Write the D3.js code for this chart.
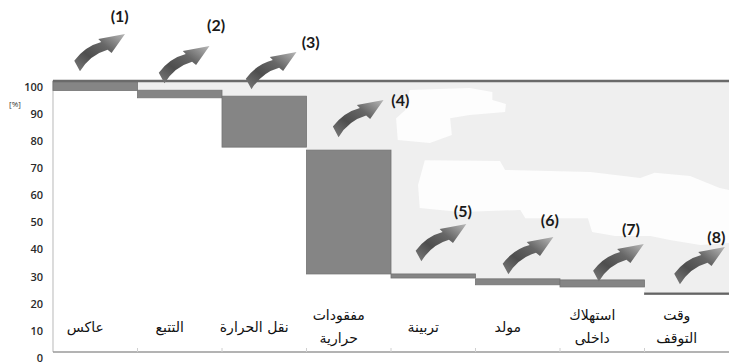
<!DOCTYPE html>
<html>
<head>
<meta charset="utf-8">
<script src="https://cdn.jsdelivr.net/npm/d3@7"></script>
<style>
  body { margin: 0; background: #fff; }
  svg { display: block; }
</style>
</head>
<body>
<div id="chart"></div>
<script>
// categories (two-line labels split on \n)
const categories = ["عاكس", "التتبع", "نقل الحرارة", "مفقودات\nحرارية", "تربينة", "مولد", "استهلاك\nداخلى", "وقت\nالتوقف"];
// waterfall steps, % of input energy
const barTop = [100, 96.6, 94.4, 74.5, 28.8, 27.0, 26.6, 21.8];
const barBottom = [96.5, 93.8, 75.6, 28.8, 27.3, 24.8, 24.0, 21.2];
const yTicks = [0, 10, 20, 30, 40, 50, 60, 70, 80, 90, 100];
// loss arrows: position in category units / value units
const arrowNames = ["(1)", "(2)", "(3)", "(4)", "(5)", "(6)", "(7)", "(8)"];
const arrowX = [0.24, 1.24, 2.27, 3.30, 4.28, 5.31, 6.38, 7.34];
const arrowY = [103.3, 98.9, 96.7, 79.0, 33.2, 28.4, 25.8, 24.7];
const arrowLabelX = [0.79, 1.93, 3.05, 4.11, 4.85, 5.88, 6.84, 7.85];
const arrowLabelY = [124, 120.7, 114.4, 93, 51.7, 48.7, 45.4, 42.4];
// white patches of the background picture
const patchA = [[4.22, 96.7], [4.93, 97.4], [5.2, 95.9], [5.2, 93], [5.36, 91.5], [5.35, 88.6], [4.93, 87.5], [4.7, 86.3], [4.72, 80.1], [4.46, 77.1], [4.08, 78.2], [4.06, 86.3], [4.17, 89.3], [4.2, 93.7]];
const patchB = [[4.4, 70.8], [5.29, 70.5], [5.35, 67.2], [6.36, 66.4], [6.95, 64.2], [7.12, 66.1], [7.54, 64.9], [7.89, 60.5], [8, 59.8], [8, 40.2], [7.66, 39.5], [7.3, 41.3], [7.07, 42.8], [6.65, 42.8], [6.38, 44.3], [6.33, 49.4], [5.59, 49.4], [5.53, 52.4], [4.82, 51.7], [4.34, 53.1], [4.32, 61.6]];

const width = 729;
const height = 364;
const margin = { top: 81, bottom: 12, left: 53, right: 0 };

const svg = d3.select("#chart").append("svg")
  .attr("width", width).attr("height", height);

const x = d3.scaleBand()
  .domain(d3.range(categories.length))
  .range([margin.left, width - margin.right])
  .padding(0);
const xu = d3.scaleLinear().domain([0, categories.length]).range([margin.left, width - margin.right]);
const y = d3.scaleLinear().domain([0, 100]).range([height - margin.bottom, margin.top]);

// arrow gradient
const grad = svg.append("defs").append("linearGradient")
  .attr("id", "arrowGrad")
  .attr("x1", 0).attr("y1", 1).attr("x2", 1).attr("y2", 0);
grad.selectAll("stop")
  .data([[0, "#7c7c7c"], [0.35, "#4e4e4e"], [0.65, "#676767"], [1, "#b8b8b8"]])
  .enter().append("stop")
  .attr("offset", (d) => d[0])
  .attr("stop-color", (d) => d[1]);

// light gray loss area above each step
svg.selectAll("rect.loss")
  .data(barTop)
  .enter().append("rect")
  .attr("class", "loss")
  .attr("x", (d, i) => x(i))
  .attr("width", x.bandwidth() + 0.5)
  .attr("y", y(100))
  .attr("height", (d) => y(d) - y(100))
  .attr("fill", "#efefef");

// white patches
const line = d3.line().x((d) => xu(d[0])).y((d) => y(d[1])).curve(d3.curveLinearClosed);
svg.selectAll("path.patch")
  .data([patchA, patchB])
  .enter().append("path")
  .attr("class", "patch")
  .attr("d", line)
  .attr("fill", "#fdfdfd");

// axes lines
svg.append("line")
  .attr("x1", margin.left).attr("x2", margin.left)
  .attr("y1", y(100)).attr("y2", y(0))
  .attr("stroke", "#c4c4c4").attr("stroke-width", 1.2);
svg.append("line")
  .attr("x1", margin.left).attr("x2", width)
  .attr("y1", y(0)).attr("y2", y(0))
  .attr("stroke", "#9a9a9a").attr("stroke-width", 1.5);
svg.selectAll("line.xtick")
  .data(d3.range(1, categories.length))
  .enter().append("line")
  .attr("class", "xtick")
  .attr("x1", (d) => x(d)).attr("x2", (d) => x(d))
  .attr("y1", y(0)).attr("y2", y(0) - 4)
  .attr("stroke", "#d0d0d0");

// bars
svg.selectAll("rect.bar")
  .data(barTop)
  .enter().append("rect")
  .attr("class", "bar")
  .attr("x", (d, i) => x(i))
  .attr("width", x.bandwidth())
  .attr("y", (d) => y(d))
  .attr("height", (d, i) => y(barBottom[i]) - y(d))
  .attr("fill", (d, i) => (i === categories.length - 1 ? "#5e5e5e" : "#858585"))
  .attr("stroke", "#737373")
  .attr("stroke-width", 0.8);

// top 100% line
svg.append("line")
  .attr("x1", margin.left).attr("x2", width)
  .attr("y1", y(100)).attr("y2", y(100))
  .attr("stroke", "#6a6a6a").attr("stroke-width", 2.5);

// y axis
const yAxis = svg.append("g")
  .attr("transform", `translate(${margin.left},0)`)
  .call(d3.axisLeft(y).tickValues(yTicks).tickSize(0).tickPadding(10));
yAxis.select(".domain").remove();
yAxis.selectAll("text")
  .attr("dy", "0.85em")
  .attr("font-family", "'Open Sans', sans-serif")
  .attr("font-weight", 600)
  .attr("font-size", 11)
  .attr("fill", "#2a2a2a");

svg.append("text")
  .attr("x", 15).attr("y", y(90.5))
  .attr("text-anchor", "middle")
  .attr("font-family", "'Open Sans', sans-serif")
  .attr("font-size", 8)
  .attr("fill", "#333")
  .text("[%]");

// category labels
const labels = svg.selectAll("text.cat")
  .data(categories)
  .enter().append("text")
  .attr("class", "cat")
  .attr("x", (d, i) => x(i) + x.bandwidth() / 2 - 10)
  .attr("y", (d) => (d.includes("\n") ? y(11.7) : y(7.4)))
  .attr("text-anchor", "middle")
  .attr("font-family", "'DejaVu Sans', sans-serif")
  .attr("font-size", 14)
  .attr("fill", "#111")
  .attr("direction", "rtl");
labels.each(function (d) {
  const parts = d.split("\n");
  d3.select(this).selectAll("tspan")
    .data(parts)
    .enter().append("tspan")
    .attr("x", d3.select(this).attr("x"))
    .attr("dy", (p, j) => (j === 0 ? 0 : "1.65em"))
    .text((p) => p);
});

// loss arrows
const arrowPath = "M6.7,-0.7 L1,-11.3 Q11.7,-25.7 28,-30 L25,-33 L51.7,-38 L38.3,-19 L34.3,-22.3 Q16.7,-17.3 6.7,-0.7 Z";
svg.selectAll("path.arrow")
  .data(arrowX)
  .enter().append("path")
  .attr("class", "arrow")
  .attr("transform", (d, i) => `translate(${xu(d)},${y(arrowY[i])})`)
  .attr("d", arrowPath)
  .attr("fill", "url(#arrowGrad)");

svg.selectAll("text.arrowLabel")
  .data(arrowNames)
  .enter().append("text")
  .attr("class", "arrowLabel")
  .attr("x", (d, i) => xu(arrowLabelX[i]))
  .attr("y", (d, i) => y(arrowLabelY[i]))
  .attr("dy", "0.35em")
  .attr("text-anchor", "middle")
  .attr("font-family", "Lato, sans-serif")
  .attr("font-weight", 700)
  .attr("font-size", 16)
  .attr("fill", "#1a1a1a")
  .text((d) => d);
</script>
</body>
</html>
